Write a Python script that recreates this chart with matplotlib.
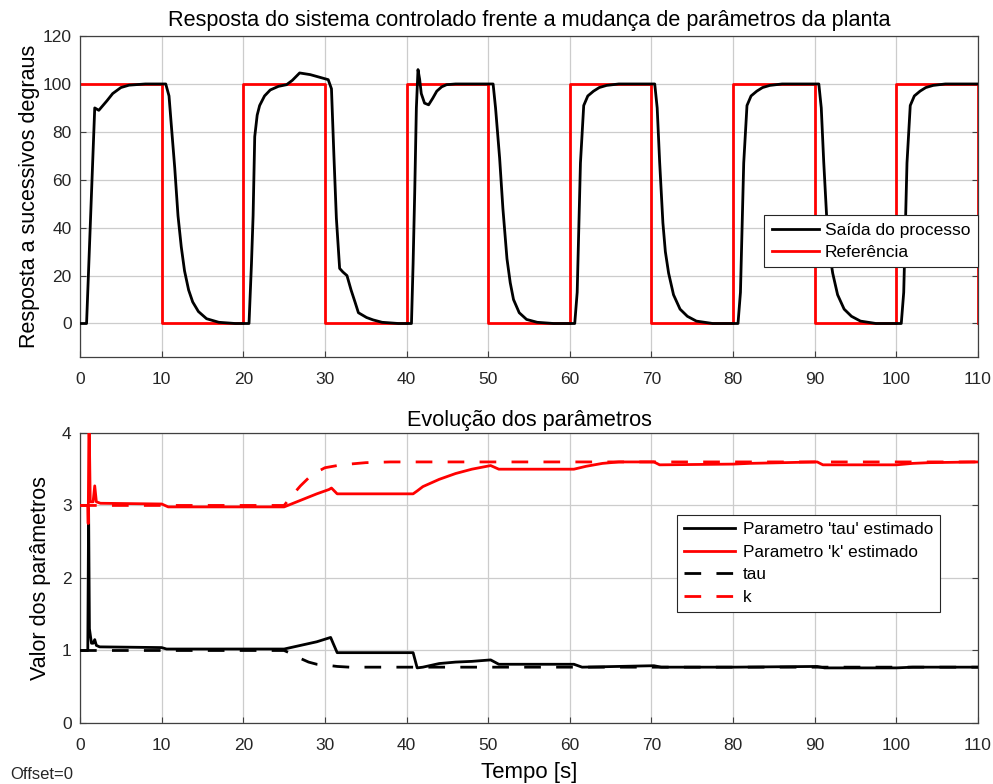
import matplotlib
matplotlib.use("Agg")
import matplotlib.pyplot as plt

plt.rcParams['font.family'] = ['Liberation Sans', 'DejaVu Sans']

# ---- top plot: process output vs reference ----
ref_t = [0, 10, 10, 20, 20, 30, 30, 40, 40, 50, 50, 60, 60, 70, 70, 80, 80, 90, 90, 100, 100, 110, 110]
ref_v = [100, 100, 0, 0, 100, 100, 0, 0, 100, 100, 0, 0, 100, 100, 0, 0, 100, 100, 0, 0, 100, 100, 0]

out_t = [0, 0.8, 1.3, 1.8, 2.3, 2.8, 3.3, 4.0, 5.0, 6.0, 8.0, 10.5,
         10.9, 11.2, 11.6, 12.0, 12.4, 12.8, 13.3, 13.8, 14.5, 15.5, 17.0, 19.0,
         20.7, 21.0, 21.2, 21.4, 21.7, 22.0, 22.6, 23.3, 24.3, 25.3, 26.0, 26.9, 28.2, 30.4,
         30.8, 31.1, 31.4, 31.8, 32.2, 32.7, 33.2, 33.7, 34.1, 35.1, 35.9, 37.0, 39.0,
         40.6, 40.8, 41.0, 41.2, 41.4, 41.6, 41.8, 42.2, 42.7, 43.2, 43.7, 44.3, 44.9, 46.0,
         50.6, 50.9, 51.4, 51.8, 52.3, 52.7, 53.1, 53.8, 54.7, 56.0, 58.0,
         60.6, 60.9, 61.3, 61.7, 62.2, 62.9, 63.6, 64.5, 66.0,
         70.4, 70.7, 71.0, 71.4, 71.7, 72.1, 72.7, 73.5, 74.4, 75.5, 77.5,
         80.6, 80.9, 81.3, 81.7, 82.2, 82.9, 83.6, 84.5, 86.0,
         90.5, 90.8, 91.1, 91.5, 91.8, 92.2, 92.8, 93.6, 94.5, 95.6, 97.5,
         100.6, 100.9, 101.3, 101.7, 102.2, 102.9, 103.6, 104.5, 106.0, 110.0]
out_v = [0, 0, 45, 90, 89, 91, 93, 96, 98.5, 99.5, 100, 100,
         95, 82, 65, 45, 32, 22, 14, 9, 5, 2, 0.5, 0,
         0, 25, 45, 78, 87, 91, 95, 97.5, 99, 99.7, 101.5, 104.6, 103.9, 101.8,
         98, 70, 44, 23, 21.5, 20, 14, 8.8, 4.5, 2.5, 1.5, 0.5, 0,
         0, 25, 55, 90, 106, 102, 96, 92, 91.3, 94, 97, 98.8, 99.7, 100,
         100, 90, 69, 48, 27, 17, 10, 4.5, 1.7, 0.5, 0,
         0, 13, 67, 91, 95, 97, 98.5, 99.4, 100,
         100, 90, 67.5, 42, 30, 21, 12, 6, 3, 1, 0,
         0, 13, 67, 91, 95, 97, 98.5, 99.4, 100,
         100, 90, 67.5, 42, 30, 21, 12, 6, 3, 1, 0,
         0, 13, 67, 91, 95, 97, 98.5, 99.4, 100, 100]

# ---- bottom plot: parameter evolution ----
tau_true_t = [0, 25, 26, 27, 28, 29, 30, 31.5, 33, 35, 110]
tau_true_v = [1.0, 1.0, 0.95, 0.89, 0.84, 0.81, 0.80, 0.78, 0.77, 0.77, 0.77]

k_true_t = [0, 25, 26, 27, 28, 29, 30, 32, 35, 38, 110]
k_true_v = [3.0, 3.0, 3.14, 3.27, 3.38, 3.46, 3.52, 3.56, 3.59, 3.6, 3.6]

tau_est_t = [0, 0.95, 1.05, 1.15, 1.4, 1.6, 1.8, 2.0, 2.4, 10.0, 10.6, 25.0, 27.0, 29.0, 30.7,
             31.0, 31.5, 40.8, 41.3, 42.0, 44.0, 46.0, 48.0, 50.3, 51.3, 60.5, 61.5,
             70.3, 71.2, 80.0, 90.3, 91.2, 100.0, 102.0, 110.0]
tau_est_v = [1.0, 1.0, 2.95, 1.3, 1.1, 1.1, 1.15, 1.07, 1.05, 1.04, 1.02, 1.02, 1.07, 1.12, 1.18,
             1.1, 0.97, 0.97, 0.76, 0.77, 0.82, 0.84, 0.85, 0.87, 0.81, 0.81, 0.77,
             0.79, 0.77, 0.77, 0.78, 0.76, 0.76, 0.77, 0.77]

k_est_t = [0, 0.95, 1.0, 1.1, 1.25, 1.6, 1.8, 2.0, 2.5, 10.0, 10.8, 25.0, 27.0, 29.0, 30.5,
           30.8, 31.5, 40.8, 41.3, 42.0, 44.0, 46.0, 48.0, 50.3, 51.3, 60.5, 62.0, 64.0, 66.0,
           70.3, 71.0, 80.0, 82.0, 90.3, 91.0, 100.0, 102.0, 104.0, 110.0]
k_est_v = [3.0, 3.0, 2.75, 4.3, 3.05, 3.05, 3.27, 3.05, 3.03, 3.02, 2.98, 2.98, 3.07, 3.16, 3.22,
           3.24, 3.16, 3.16, 3.2, 3.26, 3.36, 3.44, 3.5, 3.55, 3.5, 3.5, 3.54, 3.58, 3.6,
           3.6, 3.56, 3.57, 3.58, 3.6, 3.56, 3.56, 3.58, 3.59, 3.6]

xticks = list(range(0, 111, 10))

grid_col = '#cccccc'
edge_col = '#404040'
tick_col = '#262626'

fig = plt.figure(figsize=(9.93, 7.84), dpi=100)

ax1 = fig.add_axes([0.0806, 0.5446, 0.9043, 0.4094])
ax1.plot(out_t, out_v, color='black', lw=2.0, label='Saída do processo', zorder=3)
ax1.plot(ref_t, ref_v, color='#ff0000', lw=2.0, label='Referência', zorder=2)
ax1.set_xlim(0, 110)
ax1.set_ylim(-14, 120)
ax1.set_xticks(xticks)
ax1.set_yticks(list(range(0, 121, 20)))
ax1.set_title('Resposta do sistema controlado frente a mudança de parâmetros da planta',
              fontsize=15.6, pad=7)
ax1.set_ylabel('Resposta a sucessivos degraus', fontsize=15.5, labelpad=2)
leg1 = ax1.legend(loc='center right', bbox_to_anchor=(1.0, 0.36), fontsize=12.5,
                  frameon=True, fancybox=False, edgecolor='#262626', framealpha=1,
                  handlelength=2.7, borderpad=0.45, labelspacing=0.35, handletextpad=0.35,
                  borderaxespad=0)
leg1.get_frame().set_linewidth(0.8)

ax2 = fig.add_axes([0.0806, 0.0778, 0.9043, 0.370])
ax2.plot(tau_est_t, tau_est_v, color='black', lw=2.0, label="Parametro 'tau' estimado", zorder=3)
ax2.plot(k_est_t, k_est_v, color='#ff0000', lw=2.0, label="Parametro 'k' estimado", zorder=3)
ax2.plot(tau_true_t, tau_true_v, color='black', lw=2.0, ls=(0, (6, 5.5)), label='tau', zorder=2)
ax2.plot(k_true_t, k_true_v, color='#ff0000', lw=2.0, ls=(0, (6, 5.5)), label='k', zorder=2)
ax2.set_xlim(0, 110)
ax2.set_ylim(0, 4)
ax2.set_xticks(xticks)
ax2.set_yticks([0, 1, 2, 3, 4])
ax2.set_title('Evolução dos parâmetros', fontsize=15.6, pad=5)
ax2.set_ylabel('Valor dos parâmetros', fontsize=15.5, labelpad=8)
ax2.set_xlabel('Tempo [s]', fontsize=16, labelpad=6)
leg2 = ax2.legend(loc='center right', bbox_to_anchor=(0.958, 0.55), fontsize=12.3,
                  frameon=True, fancybox=False, edgecolor='#262626', framealpha=1,
                  handlelength=3.0, borderpad=0.42, labelspacing=0.45, handletextpad=0.45,
                  borderaxespad=0)
leg2.get_frame().set_linewidth(0.8)

for ax in (ax1, ax2):
    ax.grid(True, color=grid_col, lw=0.9)
    ax.set_axisbelow(True)
    for s in ax.spines.values():
        s.set_color(edge_col)
        s.set_linewidth(0.9)
    ax.tick_params(direction='in', length=4, width=0.8, colors=edge_col,
                   labelcolor=tick_col, labelsize=12.5, top=False, right=True)
    ax.tick_params(axis='x', pad=11)
    ax.tick_params(axis='y', pad=6)

fig.text(0.01, 0.0115, 'Offset=0', fontsize=12, color='#262626', va='center')

fig.savefig('out.png', dpi=100)
